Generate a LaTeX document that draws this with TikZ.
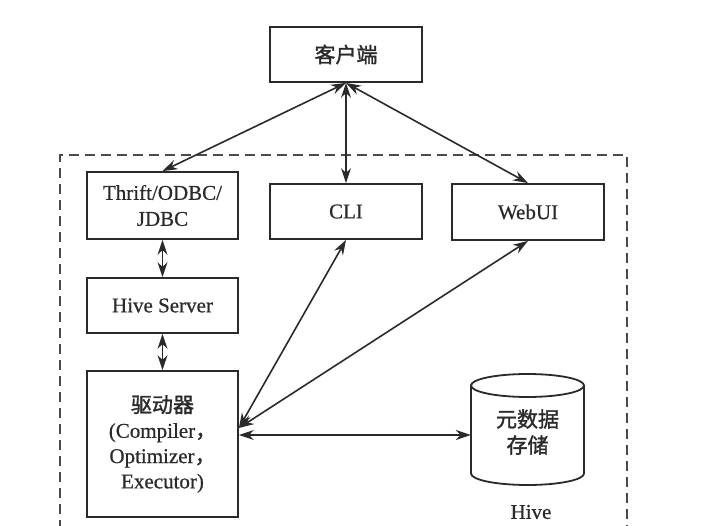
\documentclass[tikz,border=0pt]{standalone}
\usepackage{fontspec}
\setmainfont{Liberation Serif}[FakeBold=0.6]
\newfontfamily\cjk{Noto Sans CJK SC}[FakeBold=1.5]
\usetikzlibrary{arrows.meta}
\definecolor{ink}{HTML}{2A2A2A}
\begin{document}
\begin{tikzpicture}[x=1pt,y=-1pt,
  every node/.style={text=ink,font=\fontsize{21}{26}\selectfont},
  box/.style={draw=ink,line width=1.8pt,inner sep=0pt,align=center},
  link/.style={draw=ink,line width=1.6pt,{Stealth[length=15pt,width=10pt]}-{Stealth[length=15pt,width=10pt]}},
  frame/.style={draw=ink!85,line width=2pt,dash pattern=on 10pt off 6pt}]
\useasboundingbox (0,0) rectangle (720,526);
\draw[frame] (60,530) -- (60,155) -- (627,155) -- (627,530);
\node[box,minimum width=152pt,minimum height=55pt] (client) at (346,54.5) {\cjk 客户端};
\node[box,minimum width=151pt,minimum height=67pt] (thrift) at (162.5,205.5) {Thrift/ODBC/\\JDBC};
\node[box,minimum width=152pt,minimum height=55pt] (cli) at (346,211.5) {CLI};
\node[box,minimum width=152pt,minimum height=56pt] (webui) at (528,212) {WebUI};
\node[box,minimum width=151pt,minimum height=55pt] (hs) at (162.5,305.5) {Hive Server};
\node[box,minimum width=151pt,minimum height=146pt,font=\fontsize{21}{25.3}\selectfont] (driver) at (162.5,444)
  {{\cjk 驱动器}\\(Compiler{\cjk ，}\\Optimizer{\cjk ，}\\Executor)};
% cylinder
\draw[ink,line width=1.8pt,fill=white] (471,385.5) -- (471,473.5)
  arc[start angle=180,end angle=360,x radius=56.5pt,y radius=11.5pt] -- (584,385.5);
\draw[ink,line width=1.8pt] (527.5,385.5) ellipse[x radius=56.5pt,y radius=11.5pt];
\node[inner sep=0pt,minimum width=113pt,minimum height=111pt,align=center,font=\cjk\fontsize{21}{26}\selectfont] (db) at (527.5,432) {元数据\\存储};
\node (hive) at (531,512) {Hive};
% connectors
\draw[link] (client.south) -- (thrift.north);
\draw[link] (client.south) -- (cli.north);
\draw[link] (client.south) -- (webui.north);
\draw[link] (thrift.south) -- (hs.north);
\draw[link] (hs.south) -- (driver.north);
\draw[link] (cli.south) -- ([yshift=16pt]driver.east);
\draw[link] (webui.south) -- ([yshift=16pt]driver.east);
\draw[link] ([yshift=9pt]driver.east) -- ([yshift=-3pt]db.west);
\end{tikzpicture}
\end{document}
